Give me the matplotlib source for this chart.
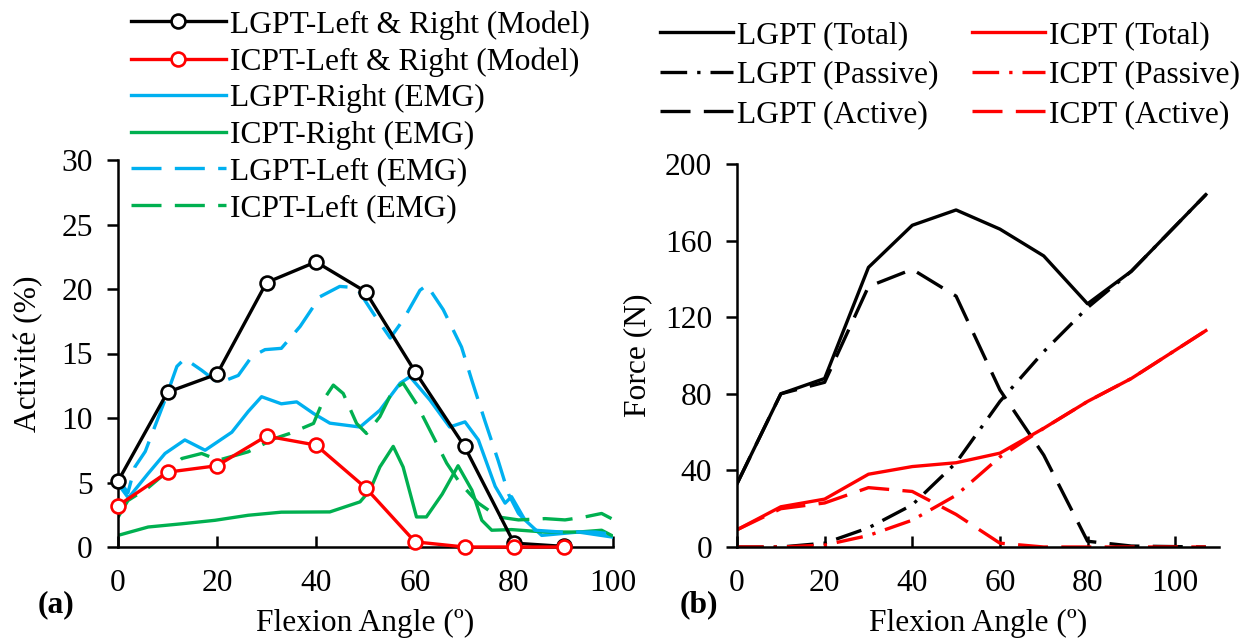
import numpy as np
import matplotlib
matplotlib.use('Agg')
import matplotlib.pyplot as plt

plt.rcParams['font.family'] = ['Liberation Serif', 'DejaVu Serif']
FS = 22.7
plt.rcParams['font.size'] = FS

BLUE = '#00B0F0'
GREEN = '#00B050'
RED = '#FF0000'

# (a) model activity
model_angle = [0, 10, 20, 30, 40, 50, 60, 70, 80, 90]
lgpt_model = [5.1, 12.0, 13.4, 20.5, 22.1, 19.8, 13.6, 7.8, 0.3, 0.05]
icpt_model = [3.2, 5.8, 6.3, 8.6, 7.9, 4.6, 0.4, 0.0, 0.0, 0.0]

# (a) EMG curves
lgpt_right_x = [0, 2.1, 6.1, 9.5, 13.5, 17.6, 23, 26.3, 29, 33, 36.1, 39.5, 42.8, 48.9,
                52.9, 57, 59, 63, 67, 70.1, 72.8, 76.2, 78.2, 79.5, 82.2, 85.6, 93, 99.7]
lgpt_right_y = [4.9, 3.8, 5.7, 7.25, 8.3, 7.5, 8.9, 10.5, 11.65, 11.1, 11.25, 10.35, 9.6, 9.3,
                10.6, 12.7, 13.2, 11.4, 9.3, 9.7, 8.3, 4.7, 3.4, 3.9, 2.1, 0.9, 1.16, 0.78]

lgpt_left_x = [0, 2.0, 3.4, 5.5, 9.5, 11.9, 13.5, 16.9, 20.3, 24.3, 27, 29.7, 33, 36.8, 40.8,
               44.8, 48.2, 51.6, 55, 57.6, 61, 62.4, 65.7, 69.4, 71.5, 74.1, 76.8, 78.9, 80.9,
               84.2, 89.6, 96.4, 99.7]
lgpt_left_y = [5.3, 4.2, 6.2, 7.4, 11.4, 14.0, 14.6, 13.7, 12.7, 13.3, 14.75, 15.3, 15.4, 17.1, 19.4,
               20.2, 20.1, 18.1, 16.2, 17.6, 19.9, 20.3, 18.4, 15.5, 12.9, 9.8, 6.7, 4.1, 2.6,
               1.3, 1.16, 1.16, 1.0]

icpt_right_x = [0, 6.1, 12.9, 19.6, 26.3, 33, 42.8, 48.9, 50.9, 52.9, 55.6, 57.6, 60.3, 62.3,
                65.5, 68.7, 71.5, 73.5, 75.5, 79.5, 86.3, 93, 97.7, 99.7]
icpt_right_y = [0.9, 1.55, 1.8, 2.07, 2.46, 2.7, 2.72, 3.5, 4.4, 6.2, 7.8, 6.2, 2.33, 2.33,
                4.1, 6.3, 4.4, 2.07, 1.3, 1.35, 1.16, 1.16, 1.3, 0.9]

icpt_left_x = [0, 2.0, 6.1, 9.5, 12.9, 16.9, 20.3, 26.3, 31.7, 34.7, 39.5, 41.5, 43.5, 45.5,
               48.2, 50.2, 52.9, 55.6, 57.6, 60.3, 63.7, 66.4, 69.0, 72.8, 76.8, 80.9, 86.3,
               90.3, 94.3, 97.7, 99.7]
icpt_left_y = [2.3, 3.6, 4.6, 5.7, 6.86, 7.25, 6.73, 7.38, 8.42, 8.8, 9.58, 11.4, 12.55, 11.9,
               9.58, 8.8, 10.1, 12.2, 12.7, 11.1, 8.54, 6.5, 5.0, 3.4, 2.33, 2.1, 2.2,
               2.1, 2.33, 2.6, 2.2]

# (b) forces
force_angle = [0, 10, 20, 30, 40, 50, 60, 70, 80, 90, 107]
lgpt_total = [33, 80, 88, 146, 168, 176, 166, 152, 127, 144, 184]
lgpt_passive = [0, 0, 2, 10, 22, 44, 76, 102, 125, 144, 184]
lgpt_active = [33, 80, 86, 136, 145, 131, 82, 48, 3, 0.5, 0]
icpt_total = [9, 21, 25, 38, 42, 44, 49, 62, 76, 88, 113]
icpt_passive = [0, 0, 1, 6, 14, 27, 47, 62, 76, 88, 113]
icpt_active = [9, 20, 23, 31, 29, 17, 2, 0, 0, 0, 0]

fig = plt.figure(figsize=(12.41, 6.4), dpi=100)
ax1 = fig.add_axes([118/1241, 1-547/640, 495/1241, 387/640])
ax2 = fig.add_axes([737/1241, 1-547/640, 482/1241, 383/640])

lw = 2.4
dash = (9, 4)
mk = dict(marker='o', markersize=10, markerfacecolor='white', markeredgewidth=1.9)

ax1.plot(model_angle, lgpt_model, color='black', lw=lw, clip_on=False, zorder=5,
         label='LGPT-Left & Right (Model)', **mk)
ax1.plot(model_angle, icpt_model, color=RED, lw=lw, clip_on=False, zorder=5,
         label='ICPT-Left & Right (Model)', **mk)
ax1.plot(lgpt_right_x, lgpt_right_y, color=BLUE, lw=lw, label='LGPT-Right (EMG)')
ax1.plot(icpt_right_x, icpt_right_y, color=GREEN, lw=lw, label='ICPT-Right (EMG)')
ax1.plot(lgpt_left_x, lgpt_left_y, color=BLUE, lw=lw, dashes=dash, label='LGPT-Left (EMG)')
ax1.plot(icpt_left_x, icpt_left_y, color=GREEN, lw=lw, dashes=dash, label='ICPT-Left (EMG)')

ax1.set_xlim(0, 100)
ax1.set_ylim(0, 30)
ax1.set_xticks(range(0, 101, 20))
ax1.set_yticks(range(0, 31, 5))

dd = (8, 3, 1, 3)
ax2.plot(force_angle, lgpt_total, color='black', lw=lw, label='LGPT (Total)')
ax2.plot(force_angle, lgpt_passive, color='black', lw=lw, dashes=dd, label='LGPT (Passive)')
ax2.plot(force_angle, lgpt_active, color='black', lw=lw, dashes=dash, label='LGPT (Active)')
ax2.plot(force_angle, icpt_total, color=RED, lw=lw, label='ICPT (Total)')
ax2.plot(force_angle, icpt_passive, color=RED, lw=lw, dashes=dd, label='ICPT (Passive)')
ax2.plot(force_angle, icpt_active, color=RED, lw=lw, dashes=dash, label='ICPT (Active)')

ax2.set_xlim(0, 110)
ax2.set_ylim(0, 200)
ax2.set_xticks(range(0, 101, 20))
ax2.set_yticks(range(0, 201, 40))

for ax in (ax1, ax2):
    for s in ('top', 'right'):
        ax.spines[s].set_visible(False)
    for s in ('left', 'bottom'):
        ax.spines[s].set_linewidth(1.8)
    ax.tick_params(axis='x', direction='in', length=8, width=1.8, pad=16, labelsize=FS)
    ax.tick_params(axis='y', direction='out', length=8, width=1.8, pad=10, labelsize=FS)
    ax.set_xlabel('Flexion Angle (º)', fontsize=FS)
    ax.xaxis.label.set_va('center')

ax1.xaxis.set_label_coords(0.5, (547-623)/387)
ax2.xaxis.set_label_coords(0.5, (547-623)/383)
ax1.set_ylabel('Activité (%)', fontsize=FS)
ax2.set_ylabel('Force (N)', fontsize=FS)
ax1.yaxis.label.set_va('center')
ax2.yaxis.label.set_va('center')
ax1.yaxis.set_label_coords((29-118)/495, 0.5)
ax2.yaxis.set_label_coords((638-737)/482, 0.5)

fig.text(56/1241, 1-605/640, '(a)', fontsize=FS, fontweight='bold', ha='center', va='center')
fig.text(699/1241, 1-605/640, '(b)', fontsize=FS, fontweight='bold', ha='center', va='center')

ax1.legend(loc='upper left', bbox_to_anchor=(131/1241, 1-10/640), bbox_transform=fig.transFigure,
           frameon=False, fontsize=FS, handlelength=3.0, handletextpad=0.15, labelspacing=0.24,
           borderpad=0, borderaxespad=0)
ax2.legend(loc='upper left', bbox_to_anchor=(660/1241, 1-21/640), bbox_transform=fig.transFigure,
           frameon=False, fontsize=FS, ncol=2, handlelength=2.3, handletextpad=0.15,
           labelspacing=0.33, columnspacing=1.06, borderpad=0, borderaxespad=0)

fig.savefig('out.png', dpi=100)
